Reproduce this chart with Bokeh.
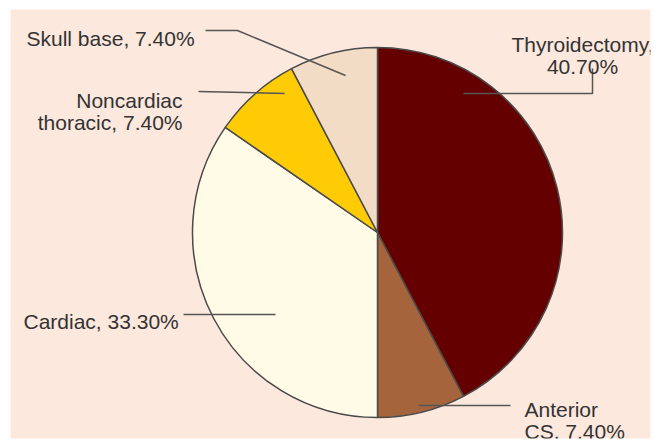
import math
from bokeh.plotting import figure
from bokeh.models import Range1d, ColumnDataSource
from bokeh.core.properties import value
from bokeh.embed import file_html
from bokeh.resources import INLINE

# ---- data ----
categories = ["Thyroidectomy", "Anterior CS", "Cardiac", "Noncardiac thoracic", "Skull base"]
percents = [40.70, 7.40, 33.30, 7.40, 7.40]
colors = ["#650000", "#a5643c", "#fffbe6", "#ffcb05", "#f2dcc6"]

# label lines for each category (text split as drawn)
label_lines = {
    "Thyroidectomy": ["Thyroidectomy,", "40.70%"],
    "Anterior CS": ["Anterior", "CS, 7.40%"],
    "Cardiac": ["Cardiac, 33.30%"],
    "Noncardiac thoracic": ["Noncardiac", "thoracic, 7.40%"],
    "Skull base": ["Skull base, 7.40%"],
}

# ---- layout (page pixel coordinates) ----
H = 443
def Y(py):
    return H - py

CX, CY, R = 377, 232, 185

# label anchor: (x, first baseline y, align)
label_pos = {
    "Thyroidectomy": (582, 44, "center"),
    "Anterior CS": (524, 409, "left"),
    "Cardiac": (23, 321, "left"),
    "Noncardiac thoracic": (182, 100, "right"),
    "Skull base": (26, 38, "left"),
}
line_gap = 22
leaders = {
    "Thyroidectomy": [(592, 68), (592, 93), (463, 93)],
    "Anterior CS": [(510, 405), (418, 405)],
    "Cardiac": [(183, 314), (275, 314)],
    "Noncardiac thoracic": [(198, 91), (284, 93)],
    "Skull base": [(205, 30), (237, 30), (345, 75)],
}

p = figure(width=659, height=443, output_backend="svg", toolbar_location=None,
           x_axis_location=None, y_axis_location=None,
           min_border_left=10, min_border_right=9, min_border_top=9, min_border_bottom=5,
           x_range=Range1d(10, 650), y_range=Range1d(Y(438), Y(9)),
           background_fill_color="#fde8de", border_fill_color="#ffffff")
p.grid.visible = False
p.outline_line_color = None

total = sum(percents)
starts, ends = [], []
cum = 0.0
for v in percents:
    a0 = math.pi / 2 - cum / total * 2 * math.pi
    cum += v
    a1 = math.pi / 2 - cum / total * 2 * math.pi
    starts.append(a0)
    ends.append(a1)

src = ColumnDataSource(dict(cat=categories, start=starts, end=ends, color=colors))
p.wedge(x=CX, y=Y(CY), radius=R, start_angle="start", end_angle="end", direction="clock",
        fill_color="color", line_color="#4a4a4a", line_width=1.5, source=src)

xs, ys = [], []
for c in categories:
    pts = leaders[c]
    xs.append([q[0] for q in pts])
    ys.append([Y(q[1]) for q in pts])
p.multi_line(xs=xs, ys=ys, line_color="#555555", line_width=1.5)

for c in categories:
    x0, y0, align = label_pos[c]
    for i, t in enumerate(label_lines[c]):
        p.text(x=[x0], y=[Y(y0 + i * line_gap)], text=[t], text_align=align,
               text_baseline="alphabetic", text_font=value("Liberation Sans"),
               text_font_size="21px", text_color="#333333")

open("out.html", "w").write(file_html(p, INLINE))
